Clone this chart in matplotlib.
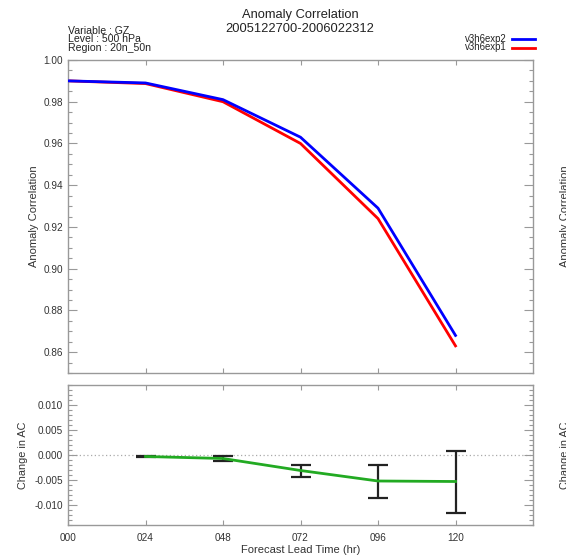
import matplotlib
matplotlib.use("Agg")
import matplotlib.pyplot as plt
from matplotlib.ticker import MultipleLocator, FixedLocator

plt.rcParams['font.family'] = ['Liberation Sans', 'DejaVu Sans']

# ---- data ----
leads = [0, 24, 48, 72, 96, 120]
tick_labels = ["000", "024", "048", "072", "096", "120"]
ac_exp2 = [0.990, 0.989, 0.981, 0.963, 0.929, 0.868]
ac_exp1 = [0.990, 0.9887, 0.980, 0.960, 0.924, 0.863]
diff_leads = [24, 48, 72, 96, 120]
diff = [-0.0003, -0.0007, -0.0031, -0.0052, -0.0053]
diff_err = [0.0001, 0.00045, 0.0012, 0.0033, 0.0062]
series_names = ["v3h6exp2", "v3h6exp1"]
ac_ticks = [0.86, 0.88, 0.90, 0.92, 0.94, 0.96, 0.98, 1.00]
dac_ticks = [-0.010, -0.005, 0.000, 0.005, 0.010]

W, H = 566, 555
fig = plt.figure(figsize=(W / 100, H / 100), dpi=100)

def fx(px):
    return px / W

def fy(py):
    return 1 - py / H

frame_col = "#999999"
text_col = "#333333"

ax1 = fig.add_axes([fx(68), fy(373), fx(533 - 68), (373 - 60) / H])
ax2 = fig.add_axes([fx(68), fy(525), fx(533 - 68), (525 - 385) / H])

for ax in (ax1, ax2):
    for s in ax.spines.values():
        s.set_color(frame_col)
        s.set_linewidth(1.0)
    ax.set_xlim(0, 144)
    ax.xaxis.set_major_locator(FixedLocator(leads))
    ax.tick_params(axis='both', which='both', direction='in', colors=frame_col,
                   labelcolor=text_col, labelsize=7.2, top=True, right=True)
    ax.tick_params(axis='x', which='major', length=3.5, width=0.8)
    ax.tick_params(axis='y', which='major', length=6.5, width=0.8)
    ax.tick_params(axis='y', which='minor', length=3.2, width=0.8)

# top panel
ax1.plot(leads, ac_exp2, color="#0000ff", lw=2.0, label=series_names[0], zorder=3)
ax1.plot(leads, ac_exp1, color="#ff0000", lw=2.0, label=series_names[1], zorder=2)
ax1.set_ylim(0.85, 1.0)
ax1.set_yticks(ac_ticks)
ax1.set_yticklabels([f"{v:.2f}" for v in ac_ticks])
ax1.yaxis.set_minor_locator(MultipleLocator(0.005))
ax1.set_xticklabels([])
ax1.set_ylabel("Anomaly Correlation", fontsize=8.0, color=text_col, labelpad=3)

# bottom panel
ax2.axhline(0, color="#aaaaaa", lw=0.9, ls=(0, (1, 2)), zorder=1)
ax2.errorbar(diff_leads, diff, yerr=diff_err, fmt='none', ecolor="#222222",
             elinewidth=1.6, capsize=7, capthick=1.6, zorder=3)
ax2.plot(diff_leads, diff, color="#22aa22", lw=2.0, zorder=4)
ax2.set_ylim(-0.014, 0.014)
ax2.set_yticks(dac_ticks)
ax2.set_yticklabels([f"{v:.3f}" for v in dac_ticks])
ax2.yaxis.set_minor_locator(MultipleLocator(0.001))
ax2.set_xticklabels(tick_labels)
ax2.tick_params(axis='x', pad=6)
ax2.set_xlabel("Forecast Lead Time (hr)", fontsize=8.0, color=text_col, labelpad=1)
ax2.set_ylabel("Change in AC", fontsize=7.8, color=text_col, labelpad=5)

# titles and annotations
fig.text(fx(300), fy(15), "Anomaly Correlation", ha='center', va='center',
         fontsize=9.3, color="#222222")
fig.text(fx(300), fy(28.5), "2005122700-2006022312", ha='center', va='center',
         fontsize=9.3, color="#222222")
for i, t in enumerate(["Variable : GZ", "Level : 500 hPa", "Region : 20n_50n"]):
    fig.text(fx(68), fy(30.5 + 8.6 * i), t, ha='left', va='center',
             fontsize=7.6, color="#222222")

# legend (manual, figure coords)
leg_y = [38.5, 47.5]
leg_cols = ["#0000ff", "#ff0000"]
for name, yy, c in zip(series_names, leg_y, leg_cols):
    fig.text(fx(507), fy(yy), name, ha='right', va='center', fontsize=6.9, color="#222222")
    fig.add_artist(plt.Line2D([fx(512), fx(535)], [fy(yy), fy(yy)], color=c, lw=2.0,
                              transform=fig.transFigure))

# neighbouring panel labels partially visible on the right edge
fig.text(fx(565), fy(216), "Anomaly Correlation", rotation=90, ha='center', va='center',
         fontsize=8.0, color=text_col)
fig.text(fx(565), fy(455), "Change in AC", rotation=90, ha='center', va='center',
         fontsize=7.8, color=text_col)

fig.savefig("out.png", dpi=100)
